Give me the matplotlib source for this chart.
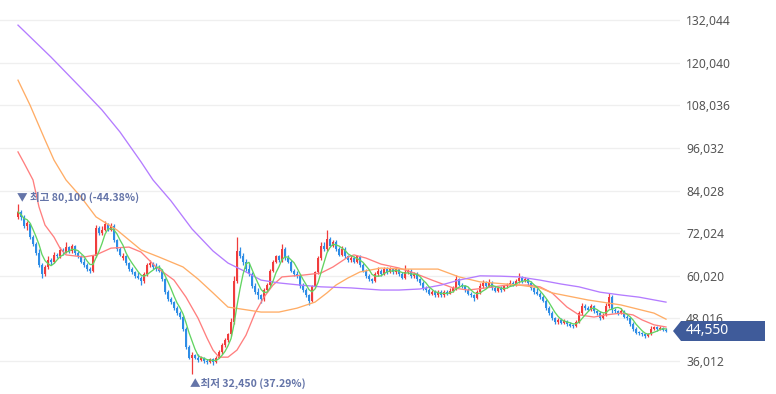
import matplotlib
matplotlib.use("Agg")
import matplotlib.pyplot as plt
from matplotlib.patches import Polygon
import numpy as np
import pandas as pd

plt.rcParams['font.family'] = ['Noto Sans', 'Noto Sans CJK KR', 'DejaVu Sans']

# ---------------- data ----------------
opens = [76500, 78000, 76500, 74000, 74500, 71000, 69000, 66500, 63000, 60500,
         62500, 64500, 63800, 66000, 65500, 67200, 66800, 68000, 67000, 68500,
         66500, 65500, 64000, 63000, 62000, 61500, 65500, 73500, 72000, 73000,
         74500, 73000, 74000, 70000, 67500, 65000, 65500, 63500, 62000, 61000,
         60000, 59500, 58500, 60500, 63000, 63500, 62500, 62000, 61500, 59000,
         55500, 53500, 52500, 51000, 49500, 48500, 45000, 40000, 37000, 37800,
         37000, 36200, 37000, 36000, 35800, 36500, 35600, 37000, 38500, 40500,
         42000, 43500, 47000, 58500, 67000, 65500, 64000, 62000, 60500, 57000,
         55500, 54500, 53500, 56000, 57500, 61500, 64000, 65500, 64500, 67500,
         65000, 64000, 61500, 60500, 60000, 57000, 56000, 54500, 53000, 57000,
         61000, 65000, 68500, 67500, 70500, 68500, 69500, 67500, 66000, 67500,
         65500, 64500, 65000, 64000, 65500, 63000, 61500, 60000, 59000, 58500,
         60500, 61500, 60500, 62000, 61000, 62000, 61000, 61800, 60500, 59500,
         61000, 61500, 60000, 60500, 59000, 58000, 56500, 56000, 55000, 55500,
         54500, 55500, 54500, 55500, 55000, 55800, 56500, 59000, 57500, 57000,
         56000, 55000, 54500, 53800, 55500, 57000, 58000, 57000, 58000, 56500,
         55800, 56500, 56000, 57000, 57500, 58000, 57500, 58500, 59500, 58500,
         59000, 58000, 56500, 55500, 55000, 54000, 53000, 51000, 49500, 48000,
         47000, 47500, 46800, 47200, 46500, 46000, 45800, 47000, 49500, 51500,
         51000, 50500, 51500, 50000, 49500, 48000, 49000, 51500, 54000, 50500,
         50000, 49500, 50000, 48500, 48000, 46500, 45000, 44000, 43800, 43500,
         43000, 43600, 45000, 45500, 45000, 45300, 44800]
highs = [80100, 78500, 77000, 75500, 75000, 71500, 69500, 67500, 63500, 63000,
         65500, 65000, 66800, 66500, 68000, 67800, 69500, 68500, 69000, 68800,
         67000, 66000, 65000, 63500, 62500, 66000, 74300, 74000, 74000, 75400,
         75000, 75000, 74500, 70500, 68000, 66500, 66000, 64000, 62500, 61500,
         61000, 60000, 61000, 63500, 64500, 64000, 63500, 63000, 62000, 59500,
         56000, 54000, 53000, 51500, 50000, 49000, 45500, 40500, 38500, 38000,
         38000, 37500, 37200, 36500, 37000, 36800, 37500, 39000, 41000, 42500,
         44000, 48000, 60000, 71000, 68000, 66500, 64800, 63500, 61000, 58000,
         56500, 55000, 56500, 58000, 62000, 64500, 66000, 66000, 69000, 68000,
         66000, 64500, 62000, 61500, 60500, 58000, 56500, 55000, 57500, 61500,
         65500, 69500, 69500, 72900, 71000, 70000, 70000, 68000, 68500, 68000,
         66000, 66000, 65500, 66000, 66000, 63500, 62000, 60500, 59500, 61000,
         62500, 62000, 62500, 62500, 62500, 62300, 62500, 62000, 61000, 63000,
         62000, 61800, 61000, 61000, 59500, 58500, 57000, 56500, 56000, 56000,
         56000, 56000, 56000, 56000, 56500, 57000, 60200, 59500, 58000, 57500,
         56500, 55500, 55000, 56000, 58000, 58800, 58500, 59000, 58500, 57000,
         57000, 57000, 57500, 58000, 58800, 58500, 59000, 60800, 60000, 59700,
         59500, 58500, 57000, 56500, 55500, 54500, 53500, 51500, 50000, 48500,
         48000, 48000, 47800, 47500, 47000, 46500, 47500, 50000, 52300, 52000,
         51500, 52000, 51800, 50500, 50000, 49500, 52300, 55200, 54500, 51000,
         50500, 51000, 50300, 49000, 48500, 47000, 45500, 44500, 44300, 44000,
         44000, 45800, 46000, 45800, 46000, 45600, 45200]
lows = [76000, 75800, 73500, 73000, 70500, 68500, 66000, 62500, 59500, 60000,
        62000, 63000, 63500, 65000, 65000, 66000, 66500, 66500, 66500, 66000,
        65000, 63500, 62500, 61500, 60800, 61000, 65300, 71500, 71500, 72500,
        72500, 72500, 69500, 67000, 65500, 64500, 63000, 61500, 60500, 59500,
        59000, 57400, 58000, 60000, 62500, 62000, 61500, 61000, 58500, 55000,
        53000, 52000, 50500, 49000, 47800, 44500, 39500, 36500, 32450, 36500,
        35800, 36000, 35500, 35200, 35500, 35000, 35400, 36800, 38000, 40000,
        41500, 43000, 46500, 58000, 65000, 63000, 61500, 60000, 56500, 55000,
        53500, 52300, 53000, 55500, 57000, 61000, 63500, 64000, 64000, 64500,
        63500, 61000, 60000, 59500, 56500, 55500, 54000, 51800, 52500, 56500,
        60500, 64500, 67000, 67000, 68000, 68000, 67000, 65500, 65500, 65000,
        64000, 64000, 63500, 63500, 62500, 61000, 59500, 58500, 58000, 58200,
        60000, 60000, 60200, 60500, 60800, 60500, 60500, 60000, 59000, 59200,
        60500, 59500, 59500, 58500, 57500, 56000, 55500, 54500, 54500, 54000,
        54000, 54000, 54000, 54500, 54800, 55500, 56000, 57000, 56500, 55500,
        54500, 54000, 53000, 53500, 55000, 56500, 56500, 56800, 56000, 55500,
        55500, 55500, 55800, 56500, 57000, 57000, 57200, 58000, 58000, 58200,
        57500, 56000, 55000, 54500, 53500, 52500, 50500, 49000, 47500, 46500,
        46500, 46500, 46500, 46000, 45500, 45300, 45500, 46800, 49000, 50500,
        50000, 50200, 49500, 49000, 47600, 47800, 48800, 51000, 49500, 49500,
        49000, 49200, 48000, 47500, 46000, 44500, 43500, 43300, 43000, 42500,
        42800, 43400, 44800, 44600, 44800, 44500, 44300]
closes = [78000, 76500, 74000, 74800, 71000, 69000, 66500, 63000, 60500, 62500,
          64500, 63800, 66000, 65500, 67200, 66800, 68000, 67000, 68500, 66500,
          65500, 64000, 63000, 62000, 61500, 65500, 73500, 72000, 73000, 74500,
          73000, 74000, 70000, 67500, 66000, 65500, 63500, 62000, 61000, 60000,
          59500, 58500, 60500, 63000, 63500, 62500, 62000, 61500, 59000, 55500,
          53500, 52500, 51000, 49500, 48500, 45000, 40000, 37000, 37800, 37000,
          36200, 37000, 36000, 35800, 36500, 35600, 37000, 38500, 40500, 42000,
          43500, 47000, 58500, 67000, 65500, 64000, 62000, 60500, 57000, 55500,
          54500, 53500, 56000, 57500, 61500, 64000, 65500, 64500, 67500, 65000,
          64000, 61500, 60500, 60000, 57000, 56000, 54500, 53000, 57000, 61000,
          65000, 68500, 67500, 70500, 68500, 69500, 67500, 66000, 67500, 65500,
          64500, 65000, 64000, 65500, 63000, 61500, 60000, 59000, 58500, 60500,
          61500, 60500, 62000, 61000, 62000, 61000, 61800, 60500, 59500, 61000,
          61500, 60000, 60500, 59000, 58000, 56500, 56000, 55000, 55500, 54500,
          55500, 54500, 55500, 55000, 55800, 56500, 59000, 57500, 57000, 56000,
          55000, 54500, 53800, 55500, 57000, 58000, 57000, 58000, 56500, 55800,
          56500, 56000, 57000, 57500, 58000, 57500, 58500, 59500, 58500, 59000,
          58000, 56500, 55500, 55000, 54000, 53000, 51000, 49500, 48000, 47000,
          47500, 46800, 47200, 46500, 46000, 45800, 47000, 49500, 51500, 51000,
          50500, 51500, 50000, 49500, 48000, 49000, 51500, 54000, 50500, 50000,
          49500, 50000, 48500, 48000, 46500, 45000, 44000, 43800, 43500, 43000,
          43600, 45000, 45500, 45000, 45300, 44800, 44550]

# moving averages (candle index, value)
ma20_idx = [0, 2, 5, 7, 9, 12, 14, 16, 22, 26, 31, 37, 41, 46, 52, 56, 60, 63,
            65, 67, 70, 73, 76, 79, 82, 85, 88, 95, 101, 105, 110, 112, 116, 121,
            127, 132, 138, 145, 150, 156, 163, 170, 174, 178, 183, 187, 192, 196,
            201, 205, 208, 212, 216]
ma20_val = [94900, 91800, 87000, 79400, 74300, 70900, 67800, 65900, 65300, 65900,
            67800, 68100, 66700, 62500, 58800, 54000, 48100, 42500, 39100, 37100,
            37100, 39100, 43300, 49500, 54000, 57400, 59700, 60200, 60800, 62500,
            65300, 65900, 65000, 63300, 62200, 60800, 58800, 56600, 56000, 56600,
            57400, 57400, 56900, 55200, 51200, 49000, 48400, 49000, 49500, 49000,
            47600, 46200, 45600]
ma60_idx = [0, 4, 9, 12, 16, 21, 26, 33, 41, 47, 55, 60, 65, 70, 74, 81, 87, 93,
            99, 103, 106, 110, 114, 121, 128, 140, 147, 154, 167, 174, 178, 190,
            201, 212, 216]
ma60_val = [115100, 108100, 98300, 92600, 87000, 82200, 76600, 72900, 67300, 65300,
            62500, 59100, 55200, 51200, 50700, 49800, 49800, 50900, 52600, 55200,
            57400, 59400, 61100, 62200, 61900, 61900, 59700, 58300, 57400, 56600,
            55200, 53200, 51800, 49500, 47800]
ma120_idx = [0, 11, 21, 28, 34, 41, 45, 51, 58, 65, 70, 76, 81, 87, 94, 101, 111,
             121, 127, 134, 141, 147, 154, 161, 167, 174, 181, 187, 194, 201, 207, 216]
ma120_val = [130600, 121600, 112900, 106700, 100500, 92100, 87000, 81100, 73200,
             67000, 63600, 61100, 58800, 58000, 57400, 56900, 56600, 56000, 56000,
             56300, 57400, 58800, 60000, 59900, 59700, 58800, 57700, 56900, 55400,
             54600, 54000, 52600]

y_ticks = [36012, 48016, 60020, 72024, 84028, 96032, 108036, 120040, 132044]
last_price = 44550
high_label = "▼ 최고 80,100 (-44.38%)"
low_label = "▲최저 32,450 (37.29%)"

# ---------------- figure ----------------
W, H = 776, 394
fig = plt.figure(figsize=(W / 100, H / 100), dpi=100)
fig.patch.set_facecolor('white')
ax = fig.add_axes([0, 0, 680 / W, 1])
ax.set_facecolor('white')

n = len(closes)
x = np.arange(n)
o = np.array(opens, float)
c = np.array(closes, float)
hi = np.array(highs, float)
lo = np.array(lows, float)
up = c >= o
RED, BLUE = '#f03c3c', '#2e8de6'
cols = np.where(up, RED, BLUE)

ax.vlines(x, lo, hi, colors=cols, linewidth=0.9, zorder=2)
body_bottom = np.minimum(o, c)
body_h = np.maximum(np.abs(c - o), 250)
ax.bar(x, body_h, bottom=body_bottom, width=0.62, color=cols, linewidth=0, zorder=3)

ma5 = pd.Series(closes, dtype=float).rolling(5, min_periods=1).mean()
ax.plot(x, ma5, color='#62d462', lw=0.95, zorder=5)
ax.plot(ma20_idx, ma20_val, color='#ff7f7f', lw=0.95, zorder=4,
        solid_joinstyle='round')
ax.plot(ma60_idx, ma60_val, color='#ffad66', lw=0.95, zorder=4,
        solid_joinstyle='round')
ax.plot(ma120_idx, ma120_val, color='#b47cff', lw=0.95, zorder=4,
        solid_joinstyle='round')

ax.set_xlim(-6, (680 - 18) / 3)
ax.set_ylim(26726, 137676)
for s in ax.spines.values():
    s.set_visible(False)
ax.set_xticks([])
ax.set_yticks(y_ticks)
ax.set_yticklabels([f"{v:,}" for v in y_ticks])
ax.yaxis.tick_right()
ax.tick_params(axis='y', length=0, pad=4.5, labelsize=8.7, labelcolor='#555555')
ax.yaxis.grid(True, color='#efefef', lw=0.9)
ax.set_axisbelow(True)

ann_col = '#6474a8'
ax.text(-0.4, 82200, high_label, ha='left', va='center', fontsize=7.6,
        fontweight='bold', color=ann_col,
        family=['Noto Sans CJK KR', 'DejaVu Sans'], zorder=6)
ax.text(57.3, 29800, low_label, ha='left', va='center', fontsize=7.6,
        fontweight='bold', color=ann_col,
        family=['Noto Sans CJK KR', 'DejaVu Sans'], zorder=6)

# price badge
def fp(px, py):
    return (px / W, 1 - py / H)

yc = 331
badge = Polygon([fp(673, yc), fp(681, yc - 10), fp(765, yc - 10),
                 fp(765, yc + 10), fp(681, yc + 10)], closed=True,
                transform=fig.transFigure, facecolor='#3f5b9a',
                edgecolor='none', zorder=10)
fig.add_artist(badge)
fig.text(686 / W, 1 - yc / H, f"{last_price:,}", ha='left', va='center',
         fontsize=10, fontweight='bold', color='white', zorder=11)

fig.savefig('out.png', dpi=100, facecolor='white')
